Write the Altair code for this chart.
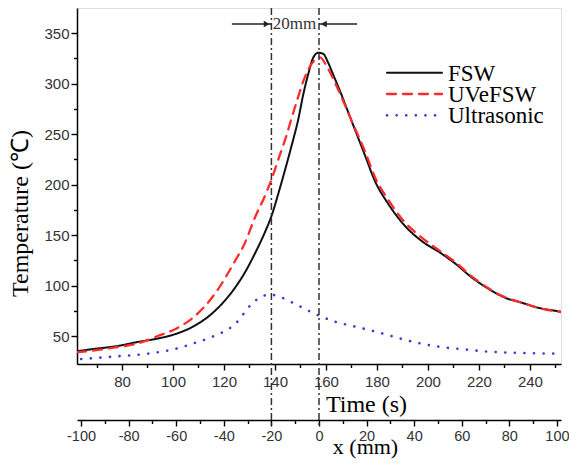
import altair as alt
import pandas as pd

SERIES = ["FSW", "UVeFSW", "Ultrasonic"]
COLORS = ["#111111", "#ff2b2b", "#3d3dd6"]
DASHES = [[1, 0], [9, 7], [0.1, 9.5]]
WIDTHS = [2.0, 2.6, 3.4]

FSW_T = [62.4, 70, 78, 86, 94, 101, 108.7, 116.5, 124.4, 128, 132.2, 136.1, 138.8, 141.2,
         143.9, 147, 149.1, 151, 152.9, 154.9, 156.9, 158.9, 160.8, 162.8, 164.8, 170.2, 175.3,
         179.3, 184.4, 191, 197.6, 205.4, 210.6, 217.2, 223.6, 230.2, 236.8, 243.2, 249.9, 255]
FSW_V = [35, 37.5, 40, 44, 47.5, 52, 60.5, 75, 98, 112, 132, 153, 170, 190,
         214, 243, 264, 288, 308, 325, 330.5, 329.5, 321, 309, 297, 262, 229,
         203, 181, 159, 144, 131.5, 122, 108, 97, 88, 83, 78, 75, 73]

UVE_T = [62.4, 70, 78, 86, 94, 101, 108.7, 116.5, 124.4, 128, 132.2, 136.1, 138.8, 141.2,
         143.9, 147.9, 151.8, 155.7, 157.7, 160.3, 164.8, 170.1, 175.3, 179.3, 184.4, 191,
         197.6, 205.4, 210.6, 217.2, 223.6, 230.2, 236.8, 243.2, 249.9, 255]
UVE_V = [34, 36, 39, 42.5, 50, 57, 70, 92, 124.6, 141, 167.6, 189, 206, 224,
         243.8, 277, 306.8, 323.4, 326, 317, 294, 263, 233, 207, 185, 162.5,
         147.5, 133, 123.5, 109, 97.5, 88.5, 83, 78, 74.5, 73]

ULT_T = [64, 70, 78.5, 90.2, 102.8, 108.7, 115.2, 124.4, 130.9, 134.2, 138.1, 142.7, 147.9,
         155.7, 163.6, 171.4, 179.3, 187.1, 194.9, 204, 213.3, 223.6, 234.2, 244.6, 255]
ULT_V = [27.2, 28.3, 30, 32.5, 38.5, 43.3, 49, 62, 81.8, 88.3, 91, 88, 81.8,
         72, 64.2, 59.4, 54.5, 49, 43.8, 39.5, 37, 34.6, 33.4, 32.8, 32.4]

T_DOMAIN = [62.35, 252.2]
Y_DOMAIN = [22.3, 374.8]
MM_DOMAIN = [-101.7, 101.7]

T_MAJOR = list(range(80, 241, 20))
T_MINOR = list(range(70, 251, 20))
Y_MAJOR = list(range(50, 351, 50))
Y_MINOR = list(range(75, 326, 50))
MM_MAJOR = list(range(-100, 101, 20))
MM_MINOR = list(range(-90, 91, 20))
MARK_MM = [-20, 0]
ARROW_FROM = [-36.6, 16.0]
ARROW_TO = [-20.0, 0.0]
ARROW_HEAD = [-22.0, 2.0]
ARROW_SHAPE = ["triangle-right", "triangle-left"]
SPAN_LABEL = "20mm"
SPAN_LABEL_MM = -10.3

SERIF = "Liberation Serif"
SANS = "Liberation Sans"

rows = []
for name, ts, vs in [("FSW", FSW_T, FSW_V), ("UVeFSW", UVE_T, UVE_V), ("Ultrasonic", ULT_T, ULT_V)]:
    for i, (t, v) in enumerate(zip(ts, vs)):
        rows.append({"series": name, "t": t, "v": v, "order": i})
lines_df = pd.DataFrame(rows)

color_enc = alt.Color("series:N", scale=alt.Scale(domain=SERIES, range=COLORS), legend=None)
dash_enc = alt.StrokeDash("series:N", scale=alt.Scale(domain=SERIES, range=DASHES), legend=None)
width_enc = alt.StrokeWidth("series:N", scale=alt.Scale(domain=SERIES, range=WIDTHS), legend=None)

tick_common = dict(tickColor="black", tickWidth=1.4, grid=False)

time_axis = alt.Axis(orient="bottom", values=T_MAJOR, tickSize=6, domainColor="black", domainWidth=1.5,
                     labelFont=SANS, labelFontSize=15, labelColor="#333", labelPadding=4,
                     title="Time (s)", titleFont=SERIF, titleFontSize=24, titleFontWeight="normal",
                     titleColor="black", titleX=289, titleY=40, titleAlign="center",
                     titleBaseline="middle", **tick_common)
y_axis = alt.Axis(orient="left", values=Y_MAJOR, tickSize=6, domainColor="black", domainWidth=1.5,
                  labelFont=SANS, labelFontSize=15, labelColor="#333", labelPadding=2,
                  title="Temperature (℃)", titleFont=SERIF, titleFontSize=24, titleFontWeight="normal",
                  titleColor="black", titleX=-57, titleY=205, titleAngle=270, titleAlign="center",
                  titleBaseline="middle", **tick_common)

lines = alt.Chart(lines_df).mark_line(strokeCap="round", strokeJoin="round",
                                      interpolate="monotone", clip=True).encode(
    x=alt.X("t:Q", scale=alt.Scale(domain=T_DOMAIN, nice=False, zero=False), axis=time_axis),
    y=alt.Y("v:Q", scale=alt.Scale(domain=Y_DOMAIN, nice=False, zero=False), axis=y_axis),
    color=color_enc, strokeDash=dash_enc, strokeWidth=width_enc,
    order="order:Q", detail="series:N",
)

t_minor = alt.Chart(pd.DataFrame({"m": T_MINOR})).mark_point(opacity=0).encode(
    x=alt.X("m:Q", scale=alt.Scale(domain=T_DOMAIN, nice=False, zero=False),
            axis=alt.Axis(orient="bottom", values=T_MINOR, tickSize=3.5, labels=False, domain=False,
                          title=None, **tick_common)),
)
y_minor = alt.Chart(pd.DataFrame({"m": Y_MINOR})).mark_point(opacity=0).encode(
    y=alt.Y("m:Q", scale=alt.Scale(domain=Y_DOMAIN, nice=False, zero=False),
            axis=alt.Axis(orient="left", values=Y_MINOR, tickSize=3.5, labels=False, domain=False,
                          title=None, **tick_common)),
)

MM_OFFSET = 56
mm_scale = alt.Scale(domain=MM_DOMAIN, nice=False, zero=False)
mm_axis = alt.Axis(orient="bottom", offset=MM_OFFSET, values=MM_MAJOR, tickSize=6, domainColor="black",
                   domainWidth=1.5, labelFont=SANS, labelFontSize=14.5, labelColor="#333", labelPadding=3,
                   labelExpr="'' + datum.value",
                   title="x (mm)", titleFont=SERIF, titleFontSize=22, titleFontWeight="normal",
                   titleColor="black", titleX=288, titleY=26, titleAlign="center",
                   titleBaseline="middle", **tick_common)

mm_rules = alt.Chart(pd.DataFrame({"mm": MARK_MM})).mark_rule(
    color="#333", strokeWidth=1.5, strokeDash=[7, 3, 2, 3]).encode(
    x=alt.X("mm:Q", scale=mm_scale, axis=mm_axis),
    y=alt.value(0), y2=alt.value(418),
)
mm_minor = alt.Chart(pd.DataFrame({"m": MM_MINOR})).mark_point(opacity=0).encode(
    x=alt.X("m:Q", scale=mm_scale,
            axis=alt.Axis(orient="bottom", offset=MM_OFFSET, values=MM_MINOR, tickSize=3.5, labels=False,
                          domain=False, title=None, **tick_common)),
)

arrow_df = pd.DataFrame({"a": ARROW_FROM, "b": ARROW_TO, "h": ARROW_HEAD, "shape": ARROW_SHAPE})
arrows = alt.Chart(arrow_df).mark_rule(color="#222", strokeWidth=1.4).encode(
    x=alt.X("a:Q", scale=mm_scale, axis=None), x2="b:Q", y=alt.value(16),
)
heads = alt.Chart(arrow_df).mark_point(filled=True, color="#222", opacity=1, size=45).encode(
    x=alt.X("h:Q", scale=mm_scale, axis=None), y=alt.value(16),
    shape=alt.Shape("shape:N", scale=alt.Scale(domain=ARROW_SHAPE, range=ARROW_SHAPE), legend=None),
)
span_text = alt.Chart(pd.DataFrame({"x": [SPAN_LABEL_MM], "label": [SPAN_LABEL]})).mark_text(
    font=SERIF, fontSize=17, color="#333", align="center", baseline="middle").encode(
    x=alt.X("x:Q", scale=mm_scale, axis=None), y=alt.value(16), text="label:N",
)

leg_df = pd.DataFrame({"series": SERIES})
leg_y = alt.Y("series:N", scale=alt.Scale(type="point", domain=SERIES, range=[54, 118]), axis=None)
leg_lines = alt.Chart(leg_df).mark_rule(strokeCap="round").encode(
    x=alt.value(310), x2=alt.value(365), y=leg_y,
    color=color_enc, strokeDash=dash_enc, strokeWidth=width_enc,
)
leg_text = alt.Chart(leg_df).mark_text(font=SERIF, fontSize=23, color="black", align="left",
                                       baseline="middle", dy=1).encode(
    x=alt.value(371), y=leg_y, text="series:N",
)

chart = alt.layer(
    lines, t_minor, y_minor, mm_rules, mm_minor, arrows, heads, span_text, leg_lines, leg_text
).resolve_scale(x="independent", y="independent").properties(
    width=484, height=356,
    autosize=alt.AutoSizeParams(type="none"),
    padding={"left": 69, "top": 0, "right": 8, "bottom": 95},
).configure_view(stroke="black", strokeWidth=1.5).configure(background="white")

chart.save("out.html", embed_options={"renderer": "svg", "actions": False})
